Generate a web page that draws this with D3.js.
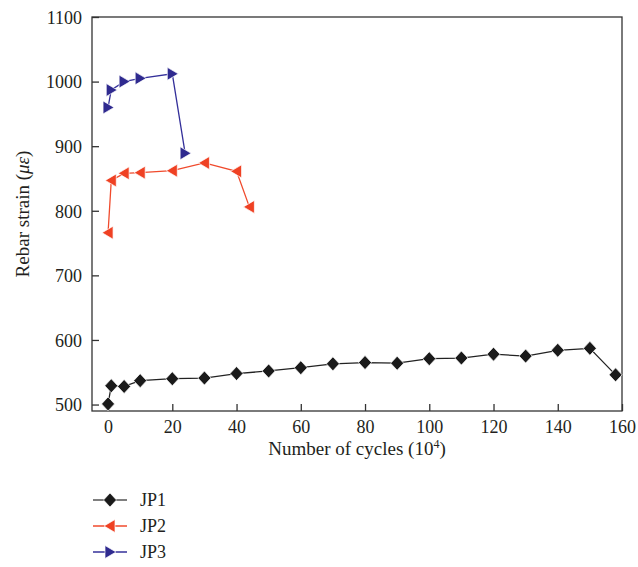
<!DOCTYPE html>
<html>
<head>
<meta charset="utf-8">
<script src="https://cdn.jsdelivr.net/npm/d3@7"></script>
<style>
  body { margin: 0; background: #fff; }
  svg text { font-family: "Liberation Serif", "DejaVu Serif", serif; fill: #231f20; }
</style>
</head>
<body>
<svg id="chart" width="638" height="567"></svg>
<script>
// cycles (x10^4) and rebar strain readings per specimen
var jp1Cycles = [0, 1, 5, 10, 20, 30, 40, 50, 60, 70, 80, 90, 100, 110, 120, 130, 140, 150, 158];
var jp1Strain = [501, 529, 528, 537, 540, 541, 548, 552, 557, 563, 565, 564, 571, 572, 578, 575, 584, 587, 546];
var jp2Cycles = [0, 1, 5, 10, 20, 30, 40, 44];
var jp2Strain = [766, 847, 858, 859, 862, 874, 861, 806];
var jp3Cycles = [0, 1, 5, 10, 20, 24];
var jp3Strain = [960, 987, 1000, 1005, 1012, 889];

var xTicks = [0, 20, 40, 60, 80, 100, 120, 140, 160];
var yTicks = [500, 600, 700, 800, 900, 1000, 1100];
var seriesNames = ["JP1", "JP2", "JP3"];

var plotLeft = 92, plotRight = 622, plotTop = 17, plotBottom = 411;

var x = d3.scaleLinear().domain([-5, 160]).range([plotLeft, plotRight]);
var y = d3.scaleLinear().domain([490, 1100]).range([plotBottom, plotTop]);

var svg = d3.select("#chart");
var frameColor = "#333";

// marker shapes
function diamond() { return "M0,-7L6.5,0L0,7L-6.5,0Z"; }
function triLeft() { return "M-6,0L5,-6.5L5,6.5Z"; }
function triRight() { return "M6,0L-5,-6.5L-5,6.5Z"; }

var series = [
  { name: seriesNames[0], xs: jp1Cycles, ys: jp1Strain, line: "#222", legendLine: "#555", fill: "#1a1a1a", shape: diamond },
  { name: seriesNames[1], xs: jp2Cycles, ys: jp2Strain, line: "#f04a2c", legendLine: "#f04a2c", fill: "#ef4123", shape: triLeft },
  { name: seriesNames[2], xs: jp3Cycles, ys: jp3Strain, line: "#34309a", legendLine: "#34309a", fill: "#2f2a8f", shape: triRight }
];

// frame
svg.append("rect")
  .attr("x", plotLeft).attr("y", plotTop)
  .attr("width", plotRight - plotLeft).attr("height", plotBottom - plotTop)
  .attr("fill", "none").attr("stroke", frameColor).attr("stroke-width", 1.3);

// axes with inward ticks
var xAxis = d3.axisBottom(x).tickValues(xTicks).tickSize(-7).tickPadding(9).tickFormat(d3.format("d"));
var gx = svg.append("g").attr("transform", "translate(0," + plotBottom + ")").call(xAxis);
var yAxis = d3.axisLeft(y).tickValues(yTicks).tickSize(-7).tickPadding(10).tickFormat(d3.format("d"));
var gy = svg.append("g").attr("transform", "translate(" + plotLeft + ",0)").call(yAxis);

[gx, gy].forEach(function(g) {
  g.select(".domain").remove();
  g.selectAll(".tick line").attr("stroke", frameColor).attr("stroke-width", 1.3);
  g.selectAll(".tick text").attr("font-size", 18).attr("fill", "#231f20")
    .attr("font-family", "'Liberation Serif', serif");
});
gy.selectAll(".tick text").attr("dy", "0.35em");

// axis titles
var xt = svg.append("text")
  .attr("x", 357).attr("y", 455)
  .attr("text-anchor", "middle").attr("font-size", 19);
xt.append("tspan").text("Number of cycles (10");
xt.append("tspan").text("4").attr("font-size", 12).attr("dy", -7);
xt.append("tspan").text(")").attr("dy", 7);

var yt = svg.append("text")
  .attr("transform", "translate(29,214) rotate(-90)")
  .attr("text-anchor", "middle").attr("font-size", 19);
yt.append("tspan").text("Rebar strain (");
yt.append("tspan").text("με").attr("font-style", "italic");
yt.append("tspan").text(")");

// series
var line = d3.line().x(function(d) { return x(d[0]); }).y(function(d) { return y(d[1]); });

series.forEach(function(s) {
  var pts = s.xs.map(function(v, i) { return [v, s.ys[i]]; });
  svg.append("path")
    .datum(pts)
    .attr("fill", "none")
    .attr("stroke", s.line)
    .attr("stroke-width", 1.3)
    .attr("d", line);
  svg.append("g").selectAll("path")
    .data(pts)
    .join("path")
    .attr("transform", function(d) { return "translate(" + x(d[0]) + "," + y(d[1]) + ")"; })
    .attr("d", s.shape())
    .attr("fill", s.fill)
    .attr("stroke", "#fff")
    .attr("stroke-width", 0.7);
});

// legend
var legend = svg.append("g");
series.forEach(function(s, i) {
  var ly = 500 + i * 26;
  var g = legend.append("g").attr("transform", "translate(0," + ly + ")");
  g.append("line").attr("x1", 93).attr("x2", 127).attr("y1", 0).attr("y2", 0)
    .attr("stroke", s.legendLine).attr("stroke-width", 1.3);
  g.append("path").attr("transform", "translate(110,0)").attr("d", s.shape())
    .attr("fill", s.fill).attr("stroke", "#fff").attr("stroke-width", 0.7);
  g.append("text").attr("x", 140).attr("y", 0).attr("dy", "0.35em")
    .attr("font-size", 18).text(s.name);
});
</script>
</body>
</html>
